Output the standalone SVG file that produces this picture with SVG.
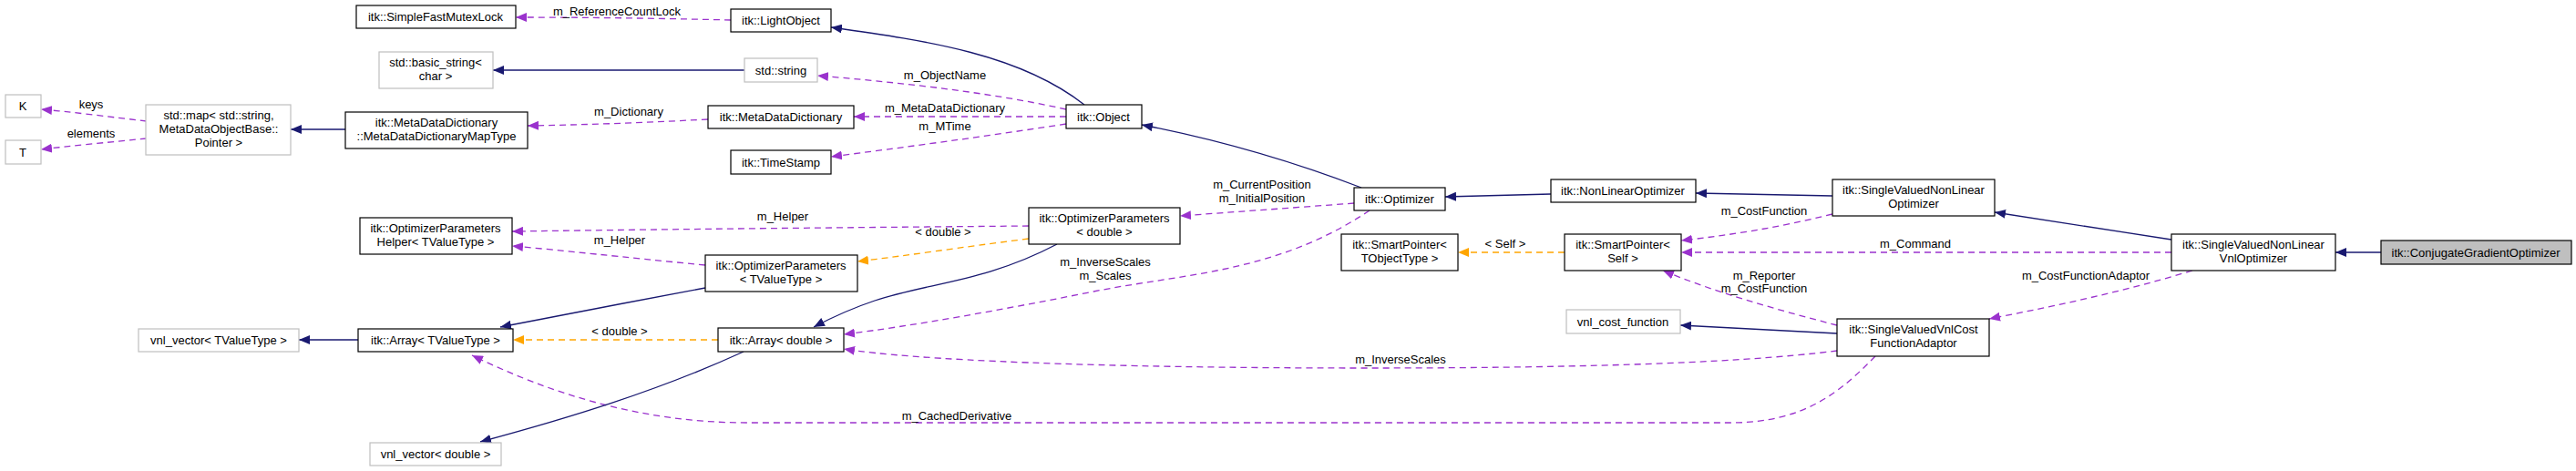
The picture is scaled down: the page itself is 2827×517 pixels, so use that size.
<svg xmlns="http://www.w3.org/2000/svg" width="2827" height="517" viewBox="0 0 2827 517">
<style>
text{font-family:"Liberation Sans",Arial,sans-serif;font-size:13px;fill:#000}
.n rect{fill:#fff;stroke:#000;stroke-width:1.2}
.g rect{fill:#fff;stroke:#bfbfbf;stroke-width:1.2}
.c rect{fill:#bfbfbf;stroke:#000;stroke-width:1.2}
.n text,.g text,.c text{text-anchor:middle}
.e path{fill:none;stroke-width:1.3}
.s{stroke:#191970}
.d{stroke:#9a32cd;stroke-dasharray:7,5}
.o{stroke:#ffa500;stroke-dasharray:7,5}
.l{text-anchor:middle}
</style>
<defs>
<marker id="an" markerWidth="12" markerHeight="10" refX="12" refY="5" orient="auto" markerUnits="userSpaceOnUse"><path d="M0,0 L12,5 L0,10 z" fill="#191970"/></marker>
<marker id="ap" markerWidth="12" markerHeight="10" refX="12" refY="5" orient="auto" markerUnits="userSpaceOnUse"><path d="M0,0 L12,5 L0,10 z" fill="#9a32cd"/></marker>
<marker id="ao" markerWidth="12" markerHeight="10" refX="12" refY="5" orient="auto" markerUnits="userSpaceOnUse"><path d="M0,0 L12,5 L0,10 z" fill="#ffa500"/></marker>
</defs>
<rect width="2827" height="517" fill="#fff"/>
<g id="edges" class="e">
<path class="d" marker-end="url(#ap)" d="M802,22 C720,20 640,19 566,19"/>
<path class="s" marker-end="url(#an)" d="M817,77 L541,77"/>
<path class="s" marker-end="url(#an)" d="M1190,115 C1120,60 1020,45 912,30"/>
<path class="d" marker-end="url(#ap)" d="M1170,120 C1080,100 980,90 897,83"/>
<path class="d" marker-end="url(#ap)" d="M1170,128 L937,128"/>
<path class="d" marker-end="url(#ap)" d="M1170,136 C1080,150 990,162 912,172"/>
<path class="d" marker-end="url(#ap)" d="M777,131 C700,135 640,137 579,138"/>
<path class="s" marker-end="url(#an)" d="M379,142 L319,142"/>
<path class="d" marker-end="url(#ap)" d="M161,133 C110,127 80,123 45,120"/>
<path class="d" marker-end="url(#ap)" d="M161,152 C110,157 80,160 45,164"/>
<path class="s" marker-end="url(#an)" d="M1494,206 C1400,170 1320,150 1253,137"/>
<path class="d" marker-end="url(#ap)" d="M1486,223 C1420,228 1350,233 1295,237"/>
<path class="d" marker-end="url(#ap)" d="M1503,231 C1400,300 1300,300 1200,320 C1100,340 1000,358 926,367"/>
<path class="s" marker-end="url(#an)" d="M1702,213 L1586,216"/>
<path class="s" marker-end="url(#an)" d="M2011,215 L1861,212"/>
<path class="s" marker-end="url(#an)" d="M2383,263 L2189,233"/>
<path class="s" marker-end="url(#an)" d="M2613,277 L2563,277"/>
<path class="d" marker-end="url(#ap)" d="M2011,235 C1950,250 1900,258 1845,264"/>
<path class="d" marker-end="url(#ap)" d="M2383,277 L1845,277"/>
<path class="d" marker-end="url(#ap)" d="M2016,357 C1950,340 1880,320 1825,297"/>
<path class="d" marker-end="url(#ap)" d="M2406,297 C2330,320 2260,335 2183,350"/>
<path class="o" marker-end="url(#ao)" d="M1717,277 L1600,277"/>
<path class="s" marker-end="url(#an)" d="M2016,366 L1844,357"/>
<path class="d" marker-end="url(#ap)" d="M2016,385 C1900,400 1700,404 1500,404 C1200,404 1000,395 926,383"/>
<path class="d" marker-end="url(#ap)" d="M2058,391 C2020,430 1980,464 1900,464 L820,464 C700,464 600,430 518,390"/>
<path class="d" marker-end="url(#ap)" d="M1129,248 C900,250 700,252 562,254"/>
<path class="d" marker-end="url(#ap)" d="M774,291 C680,282 620,275 562,270"/>
<path class="o" marker-end="url(#ao)" d="M1129,262 C1050,272 1000,280 941,287"/>
<path class="s" marker-end="url(#an)" d="M1160,268 C1080,310 1020,310 960,330 C930,340 910,350 893,359"/>
<path class="s" marker-end="url(#an)" d="M774,316 C700,330 620,345 549,359"/>
<path class="o" marker-end="url(#ao)" d="M788,373 L563,373"/>
<path class="s" marker-end="url(#an)" d="M816,386 C720,430 620,460 527,485"/>
<path class="s" marker-end="url(#an)" d="M393,373 L328,373"/>
</g>
<g id="labels">
<text class="l" x="677" y="17">m_ReferenceCountLock</text>
<text class="l" x="1037" y="87">m_ObjectName</text>
<text class="l" x="1037" y="123">m_MetaDataDictionary</text>
<text class="l" x="1037" y="143">m_MTime</text>
<text class="l" x="690" y="127">m_Dictionary</text>
<text class="l" x="100" y="119">keys</text>
<text class="l" x="100" y="151">elements</text>
<text class="l" x="1385" y="207">m_CurrentPosition</text>
<text class="l" x="1385" y="222">m_InitialPosition</text>
<text class="l" x="859" y="242">m_Helper</text>
<text class="l" x="1035" y="259">&lt; double &gt;</text>
<text class="l" x="680" y="268">m_Helper</text>
<text class="l" x="1213" y="292">m_InverseScales</text>
<text class="l" x="1213" y="307">m_Scales</text>
<text class="l" x="680" y="368">&lt; double &gt;</text>
<text class="l" x="1652" y="272">&lt; Self &gt;</text>
<text class="l" x="1936" y="236">m_CostFunction</text>
<text class="l" x="2102" y="272">m_Command</text>
<text class="l" x="1936" y="307">m_Reporter</text>
<text class="l" x="1936" y="321">m_CostFunction</text>
<text class="l" x="2289" y="307">m_CostFunctionAdaptor</text>
<text class="l" x="1537" y="399">m_InverseScales</text>
<text class="l" x="1050" y="461">m_CachedDerivative</text>
</g>
<g id="n_sfml" class="n"><rect x="391" y="6" width="175" height="25"/><text x="478" y="23">itk::SimpleFastMutexLock</text></g>
<g id="n_lightobject" class="n"><rect x="802" y="10" width="110" height="25"/><text x="857" y="27">itk::LightObject</text></g>
<g id="n_basicstring" class="g"><rect x="416" y="57" width="125" height="40"/><text x="478" y="73">std::basic_string&lt;</text><text x="478" y="88">char &gt;</text></g>
<g id="n_stdstring" class="g"><rect x="817" y="64" width="80" height="26"/><text x="857" y="82">std::string</text></g>
<g id="n_K" class="g"><rect x="6" y="104" width="39" height="25"/><text x="25" y="121">K</text></g>
<g id="n_T" class="g"><rect x="6" y="154" width="39" height="26"/><text x="25" y="172">T</text></g>
<g id="n_map" class="g"><rect x="160" y="115" width="159" height="55"/><text x="240" y="131">std::map&lt; std::string,</text><text x="240" y="146">MetaDataObjectBase::</text><text x="240" y="161">Pointer &gt;</text></g>
<g id="n_maptype" class="n"><rect x="379" y="123" width="200" height="40"/><text x="479" y="139">itk::MetaDataDictionary</text><text x="479" y="154">::MetaDataDictionaryMapType</text></g>
<g id="n_mdd" class="n"><rect x="777" y="116" width="160" height="25"/><text x="857" y="133">itk::MetaDataDictionary</text></g>
<g id="n_timestamp" class="n"><rect x="802" y="165" width="110" height="26"/><text x="857" y="183">itk::TimeStamp</text></g>
<g id="n_object" class="n"><rect x="1170" y="115" width="83" height="26"/><text x="1211" y="133">itk::Object</text></g>
<g id="n_optimizer" class="n"><rect x="1486" y="206" width="100" height="25"/><text x="1536" y="223">itk::Optimizer</text></g>
<g id="n_nonlinear" class="n"><rect x="1702" y="197" width="159" height="25"/><text x="1781" y="214">itk::NonLinearOptimizer</text></g>
<g id="n_svnl" class="n"><rect x="2011" y="197" width="178" height="40"/><text x="2100" y="213">itk::SingleValuedNonLinear</text><text x="2100" y="228">Optimizer</text></g>
<g id="n_svnlvnl" class="n"><rect x="2383" y="257" width="180" height="40"/><text x="2473" y="273">itk::SingleValuedNonLinear</text><text x="2473" y="288">VnlOptimizer</text></g>
<g id="n_cg" class="c"><rect x="2613" y="264" width="209" height="26"/><text x="2717" y="282">itk::ConjugateGradientOptimizer</text></g>
<g id="n_sptobj" class="n"><rect x="1472" y="257" width="128" height="40"/><text x="1536" y="273">itk::SmartPointer&lt;</text><text x="1536" y="288">TObjectType &gt;</text></g>
<g id="n_spself" class="n"><rect x="1717" y="257" width="128" height="40"/><text x="1781" y="273">itk::SmartPointer&lt;</text><text x="1781" y="288">Self &gt;</text></g>
<g id="n_vnlcost" class="g"><rect x="1719" y="340" width="125" height="26"/><text x="1781" y="358">vnl_cost_function</text></g>
<g id="n_adaptor" class="n"><rect x="2016" y="350" width="167" height="41"/><text x="2100" y="366">itk::SingleValuedVnlCost</text><text x="2100" y="381">FunctionAdaptor</text></g>
<g id="n_opdouble" class="n"><rect x="1129" y="228" width="166" height="40"/><text x="1212" y="244">itk::OptimizerParameters</text><text x="1212" y="259">&lt; double &gt;</text></g>
<g id="n_helper" class="n"><rect x="395" y="239" width="167" height="40"/><text x="478" y="255">itk::OptimizerParameters</text><text x="478" y="270">Helper&lt; TValueType &gt;</text></g>
<g id="n_optv" class="n"><rect x="774" y="280" width="167" height="40"/><text x="857" y="296">itk::OptimizerParameters</text><text x="857" y="311">&lt; TValueType &gt;</text></g>
<g id="n_arrd" class="n"><rect x="788" y="360" width="138" height="26"/><text x="857" y="378">itk::Array&lt; double &gt;</text></g>
<g id="n_arrt" class="n"><rect x="393" y="361" width="170" height="25"/><text x="478" y="378">itk::Array&lt; TValueType &gt;</text></g>
<g id="n_vnlt" class="g"><rect x="152" y="361" width="176" height="25"/><text x="240" y="378">vnl_vector&lt; TValueType &gt;</text></g>
<g id="n_vnld" class="g"><rect x="406" y="486" width="144" height="25"/><text x="478" y="503">vnl_vector&lt; double &gt;</text></g>
</svg>
